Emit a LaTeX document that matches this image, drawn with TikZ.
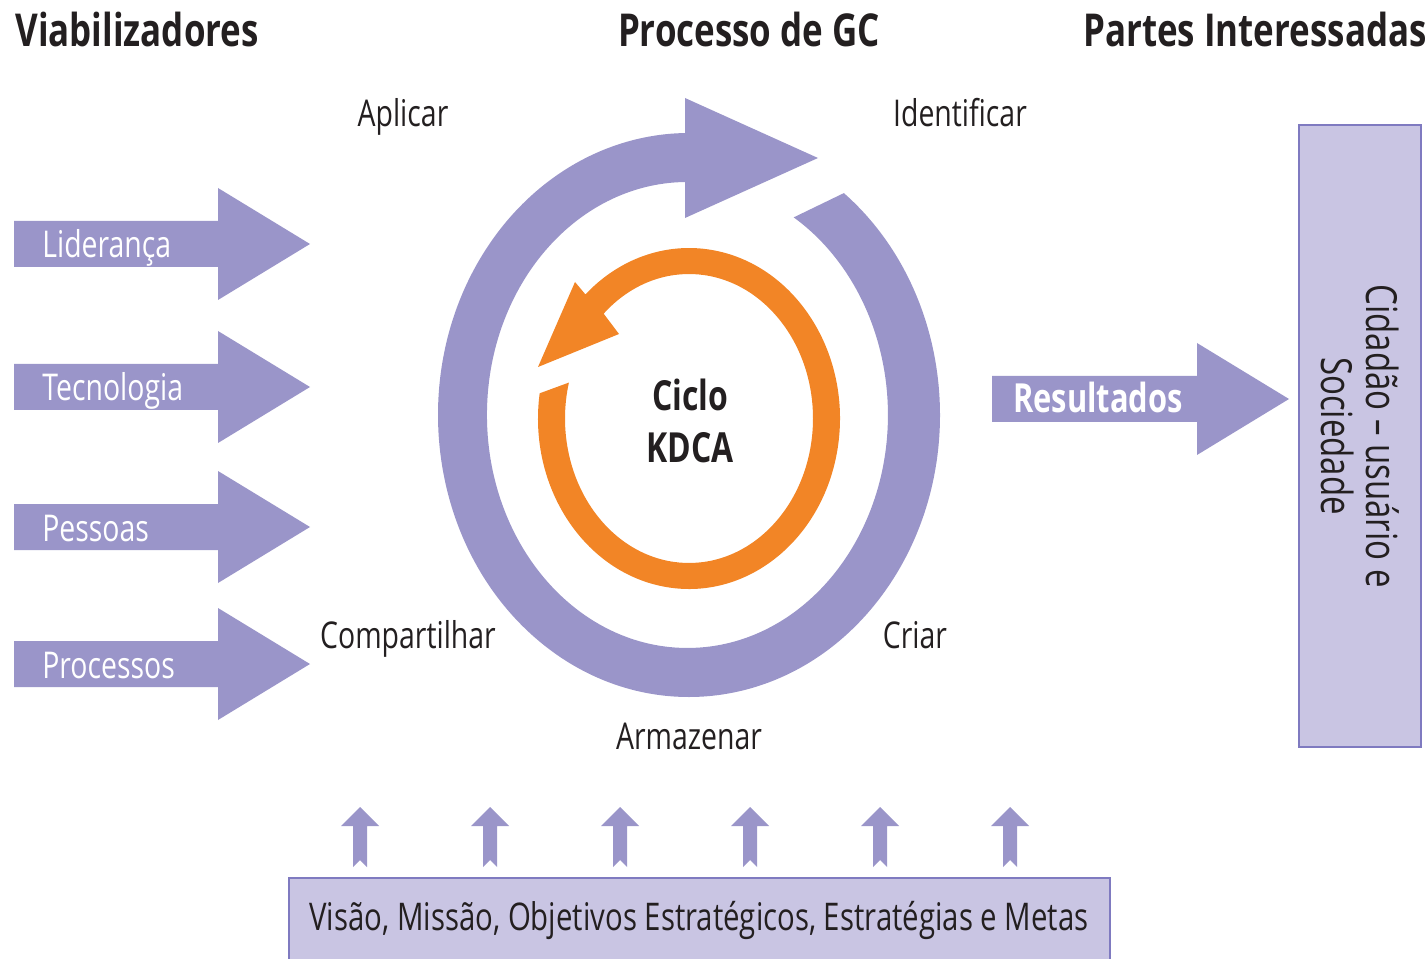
\documentclass[tikz,border=0pt]{standalone}
\usepackage{fontspec}
\setmainfont{Open Sans}[FakeStretch=0.77]
\usetikzlibrary{positioning, math, calc}

\definecolor{gcPurple}{HTML}{9A95C9}
\definecolor{gcLilac}{HTML}{C9C5E3}
\definecolor{gcBorder}{HTML}{7F7AC0}
\definecolor{gcOrange}{HTML}{F28526}
\definecolor{gcText}{HTML}{231F20}

\begin{document}
\begin{tikzpicture}[x=0.02cm, y=0.02cm]
	\tikzmath{
		\pcx    = 689;   %centre of the purple ring
		\pcy    = 543;
		\pRxOut = 251;   %purple outer radii
		\pRyOut = 282;
		\pRxIn  = 200.5; %purple inner radii
		\pRyIn  = 233;
		\ocx    = 689;   %centre of the orange ring
		\ocy    = 539.5;
		\oRxOut = 151;   %orange outer radii
		\oRyOut = 170.5;
		\oRxIn  = 124;   %orange inner radii
		\oRyIn  = 144.5;
		\upDist = 130;   %dist between the small arrows
	}
	\tikzstyle{Title} = [
		font=\fontsize{25.8}{29}\selectfont\bfseries,
		text=gcText,
		inner sep=0pt
	]
	\tikzstyle{Label}     = [font=\fontsize{21}{24}\selectfont, text=gcText, inner sep=0pt]
	\tikzstyle{ArrowText} = [Label, text=white]
	\tikzstyle{Box}       = [draw=gcBorder, line width=1.2pt, fill=gcLilac, inner sep=0pt]
	\tikzset{
		bigArrow/.style={insert path={++(0,23) -- ++(#1,0) -- ++(0,33) -- ++(92,-56)
			-- ++(-92,-56) -- ++(0,33) -- ++(-#1,0) -- cycle}},
		upArrow/.style={insert path={-- ++(19,-19) -- ++(-12,0) -- ++(0,-41) -- ++(-7,7)
			-- ++(-7,-7) -- ++(0,41) -- ++(-12,0) -- cycle}}
	}

	\useasboundingbox (0,0) rectangle (1427,958);

	%%%%%%%%%%%%%%%%%%%%%%%%%%===---TITLES---===%%%%%%%%%%%%%%%%%%%%%%%%%%
	\node (viab)   [Title, anchor=base west] at (15,911)   {Viabilizadores};
	\node (proc)   [Title, anchor=base]      at (749,911)  {Processo de GC};
	\node (partes) [Title, anchor=base]      at (1255,911) {Partes Interessadas};

	%%%%%%%%%%%%%%%%%%%%%%%%%%===---LEFT ARROWS---===%%%%%%%%%%%%%%%%%%%%%%%%%%
	\coordinate (lid) at (14,714);
	\coordinate (tec) at (14,571);
	\coordinate (pes) at (14,431);
	\coordinate (prc) at (14,294);
	\fill[gcPurple] (lid) [bigArrow=204];
	\fill[gcPurple] (tec) [bigArrow=204];
	\fill[gcPurple] (pes) [bigArrow=204];
	\fill[gcPurple] (prc) [bigArrow=204];
	\node (lidText) [ArrowText, anchor=base west] at (42,700) {Liderança};
	\node (tecText) [ArrowText, anchor=base west] at (42,557) {Tecnologia};
	\node (pesText) [ArrowText, anchor=base west] at (42,417) {Pessoas};
	\node (prcText) [ArrowText, anchor=base west] at (42,280) {Processos};

	%%%%%%%%%%%%%%%%%%%%%%%%%%===---PURPLE RING---===%%%%%%%%%%%%%%%%%%%%%%%%%%
	\coordinate (pc) at (\pcx,\pcy);
	\fill[gcPurple] ({\pcx+\pRxOut*cos(51.9)}, {\pcy+\pRyOut*sin(51.9)})
		arc[start angle=51.9, end angle=-269.1, x radius=\pRxOut, y radius=\pRyOut]
		-- (685,860) -- (818,800) -- (685,740) -- (685,776) %head
		arc[start angle=-269.3, end angle=58, x radius=\pRxIn, y radius=\pRyIn] -- cycle;

	%%%%%%%%%%%%%%%%%%%%%%%%%%===---ORANGE RING---===%%%%%%%%%%%%%%%%%%%%%%%%%%
	\coordinate (oc) at (\ocx,\ocy);
	\fill[gcOrange] ({\ocx+\oRxOut*cos(171.5)}, {\ocy+\oRyOut*sin(171.5)})
		arc[start angle=171.5, end angle=493.3, x radius=\oRxOut, y radius=\oRyOut]
		-- (575,676) -- (538,591) -- (619,624) %head
		-- ({\ocx+\oRxIn*cos(493.5)}, {\ocy+\oRyIn*sin(493.5)})
		arc[start angle=493.5, end angle=165.6, x radius=\oRxIn, y radius=\oRyIn] -- cycle;
	\node (ciclo) [Title, font=\fontsize{23.6}{29.5}\selectfont\bfseries, align=center] at (690,537) {Ciclo\\KDCA};

	%%%%%%%%%%%%%%%%%%%%%%%%%%===---STEPS---===%%%%%%%%%%%%%%%%%%%%%%%%%%
	\node (aplicar) [Label, anchor=base] at (403,831) {Aplicar};
	\node (ident)   [Label, anchor=base] at (960,831) {Identificar};
	\node (compart) [Label, anchor=base] at (408,310) {Compartilhar};
	\node (criar)   [Label, anchor=base] at (915,310) {Criar};
	\node (armaz)   [Label, anchor=base] at (689,209) {Armazenar};

	%%%%%%%%%%%%%%%%%%%%%%%%%%===---RESULTS---===%%%%%%%%%%%%%%%%%%%%%%%%%%
	\coordinate (res) at (992,559);
	\fill[gcPurple] (res) [bigArrow=205];
	\node (resText) [Title, font=\fontsize{22.8}{26}\selectfont\bfseries, text=white, anchor=base]
		at (1098,545) {Resultados};
	\node (cidBox)  [Box, minimum width=2.44cm, minimum height=12.44cm] at (1360,522) {};
	\node (cidText) [Label, font=\fontsize{24.4}{25.5}\selectfont, rotate=-90, align=center]
		at (cidBox.center) {Cidadão – usuário e\\Sociedade};

	%%%%%%%%%%%%%%%%%%%%%%%%%%===---BOTTOM---===%%%%%%%%%%%%%%%%%%%%%%%%%%
	\coordinate (up1) at (360,151);
	\coordinate (up2) at ($(up1)+(\upDist,0)$);
	\coordinate (up3) at ($(up2)+(\upDist,0)$);
	\coordinate (up4) at ($(up3)+(\upDist,0)$);
	\coordinate (up5) at ($(up4)+(\upDist,0)$);
	\coordinate (up6) at ($(up5)+(\upDist,0)$);
	\fill[gcPurple] (up1) [upArrow];
	\fill[gcPurple] (up2) [upArrow];
	\fill[gcPurple] (up3) [upArrow];
	\fill[gcPurple] (up4) [upArrow];
	\fill[gcPurple] (up5) [upArrow];
	\fill[gcPurple] (up6) [upArrow];
	\node (visBox)  [Box, minimum width=16.42cm, minimum height=1.66cm] at (699.5,38.5) {};
	\node (visText) [Label, font=\fontsize{21.7}{24}\selectfont, anchor=base] at (699,28)
		{Visão, Missão, Objetivos Estratégicos, Estratégias e Metas};
\end{tikzpicture}
\end{document}
